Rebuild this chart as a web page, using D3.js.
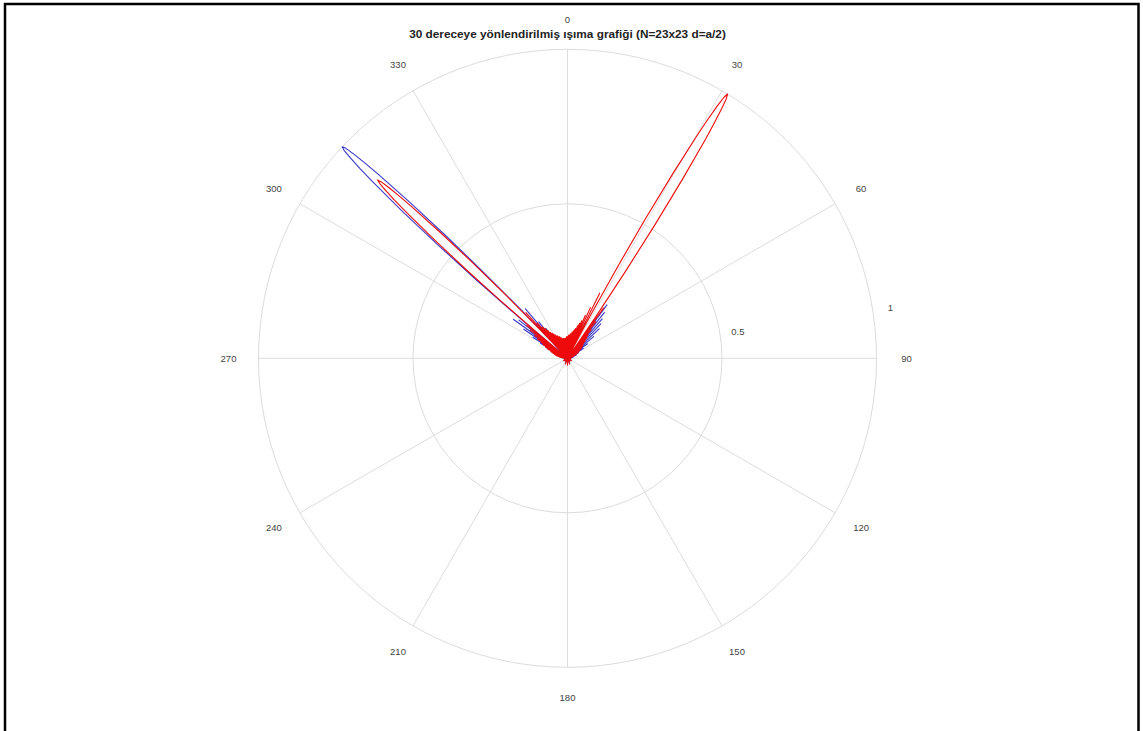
<!DOCTYPE html>
<html>
<head>
<meta charset="utf-8">
<script src="https://cdn.jsdelivr.net/npm/d3@7"></script>
<style>
  body { margin: 0; background: #fff; }
  text { font-family: "Liberation Sans", Arial, sans-serif; }
</style>
</head>
<body>
<svg id="chart" width="1143" height="731"></svg>
<script>
// Title and tick labels
const chartTitle = "30 dereceye yönlendirilmiş ışıma grafiği (N=23x23 d=a/2)";
const angleTicks = [0, 30, 60, 90, 120, 150, 180, 210, 240, 270, 300, 330];
const radialTicks = [0.5, 1];

// Normalised array factor, blue cut: [angle in degrees (clockwise from top), |AF|]
const bluePattern = [
  [-90, 0], [-87, 0.015], [-83, 0], [-79, 0.025], [-75, 0], [-72, 0.035], [-69, 0], [-67, 0.05],
  [-65, 0], [-63.5, 0.075], [-62.2, 0], [-61, 0.1], [-59.8, 0], [-58.7, 0.13], [-57.6, 0],
  [-56.5, 0.17], [-55.4, 0], [-54.2, 0.215], [-53, 0], [-51.8, 0.2], [-50.7, 0],
  // main lobe at 313.2°
  [-50.3, 0.08], [-49.8, 0.22], [-49.3, 0.39], [-48.8, 0.56], [-48.3, 0.72], [-47.8, 0.855],
  [-47.55, 0.91], [-47.3, 0.955], [-47.05, 0.988], [-46.8, 1.0], [-46.55, 0.988], [-46.3, 0.955],
  [-46.05, 0.91], [-45.8, 0.855], [-45.3, 0.72], [-44.8, 0.56], [-44.3, 0.39], [-43.8, 0.22],
  [-43.3, 0.08], [-42.9, 0],
  [-42.1, 0.15], [-41.3, 0], [-40.4, 0.21], [-39.4, 0], [-38.2, 0.15], [-37, 0], [-35.8, 0.12],
  [-34.6, 0], [-33.4, 0.09], [-32.2, 0], [-31, 0.07], [-29.8, 0], [-28.6, 0.06], [-27.4, 0],
  [-24, 0.05], [-21, 0], [-18, 0.05], [-15, 0], [-12, 0.05], [-9, 0], [-6, 0.05], [-3, 0],
  [0, 0.05], [3, 0], [6, 0.05], [9, 0], [12, 0.055], [15, 0], [18, 0.06], [21, 0], [23, 0.08],
  [25, 0], [26.5, 0.13], [28, 0], [35.2, 0],
  [36.4, 0.215], [37.6, 0], [38.8, 0.19], [40, 0], [41.3, 0.17], [42.6, 0], [44, 0.155], [45.4, 0],
  [47, 0.14], [48.6, 0], [50.3, 0.11], [52, 0], [54, 0.08], [56, 0], [58, 0.06], [60, 0],
  [63, 0.04], [66, 0], [70, 0.03], [74, 0], [80, 0.018], [86, 0], [90, 0],
  [100, 0.01], [110, 0], [125, 0.012], [140, 0], [155, 0.015], [170, 0], [180, 0.018],
  [190, 0], [205, 0.015], [220, 0], [235, 0.012], [250, 0], [260, 0.01]
];

// Normalised array factor, red cut
const redPattern = [
  [-90, 0], [-89, 0.01], [-88, 0], [-87, 0.015], [-86, 0], [-85, 0.02], [-84, 0], [-83, 0.02],
  [-82, 0], [-81, 0.025], [-80, 0], [-79, 0.03], [-78, 0], [-77, 0.035], [-76, 0], [-75, 0.04],
  [-74, 0], [-73, 0.045], [-72, 0], [-71, 0.05], [-70, 0], [-69, 0.055], [-68, 0], [-67, 0.06],
  [-66, 0], [-65, 0.07], [-64, 0], [-63, 0.08], [-62, 0], [-61, 0.09], [-60, 0], [-59, 0.1],
  [-58, 0], [-57, 0.115], [-56, 0], [-55, 0.13], [-54, 0], [-53, 0.15], [-52, 0], [-51.2, 0.17],
  [-50.4, 0],
  // lobe at 313.2°
  [-50.1, 0.07], [-49.8, 0.14], [-49.3, 0.29], [-48.8, 0.44], [-48.3, 0.58], [-47.8, 0.71],
  [-47.55, 0.76], [-47.3, 0.80], [-47.05, 0.83], [-46.8, 0.843], [-46.55, 0.83], [-46.3, 0.80],
  [-46.05, 0.76], [-45.8, 0.71], [-45.3, 0.58], [-44.8, 0.44], [-44.3, 0.29], [-43.8, 0.14],
  [-43.5, 0.07], [-43.2, 0],
  [-42.3, 0.2], [-41.4, 0], [-40.5, 0.15], [-39.6, 0], [-38.7, 0.13], [-37.8, 0], [-36.9, 0.12],
  [-36, 0], [-35.1, 0.11], [-34.2, 0], [-33.3, 0.1], [-32.4, 0], [-31.5, 0.095], [-30.6, 0],
  [-29.7, 0.09], [-28.8, 0], [-27.9, 0.085], [-27, 0], [-26.1, 0.08], [-25.2, 0], [-24.3, 0.08],
  [-23.4, 0], [-22.5, 0.075], [-21.6, 0], [-20.7, 0.075], [-19.8, 0], [-18.9, 0.07], [-18, 0],
  [-17.1, 0.07], [-16.2, 0], [-15.3, 0.065], [-14.4, 0], [-13.5, 0.065], [-12.6, 0], [-11.7, 0.065],
  [-10.8, 0], [-9.9, 0.065], [-9, 0], [-8.1, 0.065], [-7.2, 0], [-6.3, 0.065], [-5.4, 0],
  [-4.5, 0.065], [-3.6, 0], [-2.7, 0.07], [-1.8, 0], [-0.9, 0.07], [0, 0], [0.9, 0.07], [1.8, 0],
  [2.7, 0.075], [3.6, 0], [4.5, 0.075], [5.4, 0], [6.3, 0.08], [7.2, 0], [8.1, 0.08], [9, 0],
  [9.9, 0.085], [10.8, 0], [11.7, 0.09], [12.6, 0], [13.5, 0.095], [14.4, 0], [15.3, 0.1],
  [16.2, 0], [17.1, 0.11], [18, 0], [18.9, 0.12], [19.8, 0], [20.7, 0.13], [21.6, 0], [22.5, 0.15],
  [23.4, 0], [24.3, 0.18], [25.2, 0], [26.3, 0.235], [27.6, 0],
  // main lobe at 31.2°
  [27.9, 0.08], [28.2, 0.17], [28.7, 0.34], [29.2, 0.52], [29.7, 0.69], [30.2, 0.84],
  [30.45, 0.9], [30.7, 0.95], [30.95, 0.985], [31.2, 1.0], [31.45, 0.985], [31.7, 0.95],
  [31.95, 0.9], [32.2, 0.84], [32.7, 0.69], [33.2, 0.52], [33.7, 0.34], [34.2, 0.17],
  [34.5, 0.08], [34.8, 0],
  [35.7, 0.2], [36.6, 0], [37.6, 0.15], [38.6, 0], [39.6, 0.12], [40.6, 0], [41.6, 0.1], [42.6, 0],
  [43.6, 0.09], [44.6, 0], [45.6, 0.08], [46.6, 0], [47.6, 0.07], [48.6, 0], [49.6, 0.065],
  [50.6, 0], [51.6, 0.06], [52.6, 0], [53.6, 0.055], [54.6, 0], [55.6, 0.05], [56.6, 0],
  [57.6, 0.045], [58.6, 0], [60, 0.04], [61.4, 0], [63, 0.035], [64.6, 0], [66, 0.03], [67.4, 0],
  [69, 0.025], [70.6, 0], [72, 0.02], [73.6, 0], [76, 0.015], [78, 0], [82, 0.012], [86, 0],
  [90, 0],
  [100, 0.012], [110, 0], [120, 0.015], [130, 0], [140, 0.012], [150, 0], [160, 0.02], [170, 0],
  [180, 0.022], [190, 0], [200, 0.02], [210, 0], [220, 0.012], [230, 0], [240, 0.015], [250, 0],
  [260, 0.012]
];

const seriesColors = { blue: "#3838c8", red: "#ee0a0a" };

const svg = d3.select("#chart");
const W = 1143, H = 731;
const cx = 567.5, cy = 358.3, R = 309;
const rad = d => d * Math.PI / 180;

// Frame (open at the bottom)
svg.append("path")
  .attr("d", `M5,${H} V4 H1138.5 V${H}`)
  .attr("fill", "none").attr("stroke", "#000").attr("stroke-width", 2.5);

const r = d3.scaleLinear().domain([0, 1]).range([0, R]);
const g = svg.append("g").attr("transform", `translate(${cx},${cy})`);

// Grid: circles and spokes
const grid = g.append("g").attr("fill", "none").attr("stroke", "#dcdcdc").attr("stroke-width", 1);
grid.selectAll("circle").data(radialTicks).join("circle").attr("r", d => r(d));
grid.selectAll("line").data(angleTicks.filter(a => a < 180)).join("line")
  .attr("x1", a => r(1) * Math.sin(rad(a))).attr("y1", a => -r(1) * Math.cos(rad(a)))
  .attr("x2", a => -r(1) * Math.sin(rad(a))).attr("y2", a => r(1) * Math.cos(rad(a)));

// Angle labels
const labelR = r(1) + 30;
g.append("g").selectAll("text").data(angleTicks).join("text")
  .attr("x", a => labelR * Math.sin(rad(a)))
  .attr("y", a => -labelR * Math.cos(rad(a)))
  .attr("text-anchor", "middle").attr("dominant-baseline", "central")
  .attr("font-size", 9.5).attr("fill", "#444")
  .text(a => a);

// Radial labels
g.append("g").selectAll("text").data(radialTicks).join("text")
  .attr("x", v => (r(v) + 18) * Math.sin(rad(81)))
  .attr("y", v => -(r(v) + 18) * Math.cos(rad(81)))
  .attr("text-anchor", "middle").attr("dominant-baseline", "central")
  .attr("font-size", 9.5).attr("fill", "#444")
  .text(v => v);

// Patterns
const radial = d3.lineRadial()
  .angle(d => rad(d[0]))
  .radius(d => r(d[1]))
  .curve(d3.curveLinearClosed);

g.append("path").datum(bluePattern).attr("d", radial)
  .attr("fill", "none").attr("stroke", seriesColors.blue).attr("stroke-width", 1.1)
  .attr("stroke-linejoin", "round");
g.append("path").datum(redPattern).attr("d", radial)
  .attr("fill", "none").attr("stroke", seriesColors.red).attr("stroke-width", 1.1)
  .attr("stroke-linejoin", "round");

// Title
svg.append("text")
  .attr("x", cx).attr("y", 38)
  .attr("text-anchor", "middle")
  .attr("font-size", 11.8).attr("font-weight", "bold").attr("fill", "#222")
  .text(chartTitle);
</script>
</body>
</html>
